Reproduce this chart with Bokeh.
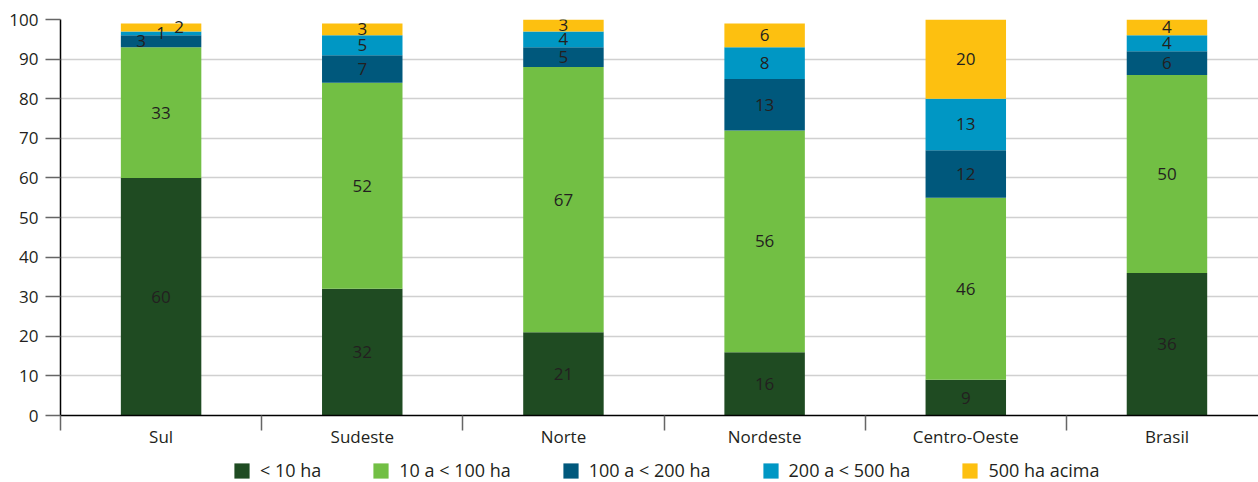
from bokeh.plotting import figure
from bokeh.layouts import column
from bokeh.models import (ColumnDataSource, Range1d, FixedTicker, Legend, LegendItem)
from bokeh.core.properties import value
from bokeh.embed import file_html
from bokeh.resources import INLINE

# Share of rural establishments by area class (%), per region
categories = ["Sul", "Sudeste", "Norte", "Nordeste", "Centro-Oeste", "Brasil"]
lt_10 = [60, 32, 21, 16, 9, 36]
from_10_to_100 = [33, 52, 67, 56, 46, 50]
from_100_to_200 = [3, 7, 5, 13, 12, 6]
from_200_to_500 = [1, 5, 4, 8, 13, 4]
from_500_up = [2, 3, 3, 6, 20, 4]
series_labels = ["< 10 ha", "10 a < 100 ha", "100 a < 200 ha", "200 a < 500 ha", "500 ha acima"]
y_ticks = [0, 10, 20, 30, 40, 50, 60, 70, 80, 90, 100]

series = [lt_10, from_10_to_100, from_100_to_200, from_200_to_500, from_500_up]
keys = ["s0", "s1", "s2", "s3", "s4"]
colors = ["#1f4b22", "#72bf44", "#00587c", "#0097c4", "#fdc010"]
FONT = "Open Sans"
TXT = "#231f20"

xs = [i + 0.5 for i in range(len(categories))]
data = {"x": xs}
for k, s in zip(keys, series):
    data[k] = s
source = ColumnDataSource(data)

p = figure(width=1258, height=450, output_backend="svg", toolbar_location=None,
           x_range=Range1d(0, 5.955), y_range=Range1d(0, 100),
           min_border_left=60, min_border_right=0, min_border_top=19,
           min_border_bottom=34)
p.outline_line_color = None
p.background_fill_color = None
p.border_fill_color = "white"

renderers = p.vbar_stack(keys, x="x", width=0.4, source=source, color=colors,
                         line_color=None)

# Value labels at the middle of each segment
lx, ly, lt, lo = [], [], [], []
small_offsets = {(0, 2): -20, (0, 3): 0, (0, 4): 18}
for i, xc in enumerate(xs):
    base = 0
    for j, s in enumerate(series):
        v = s[i]
        lx.append(xc)
        ly.append(base + v / 2)
        lt.append(str(v))
        lo.append(small_offsets.get((i, j), 0))
        base += v
lab = ColumnDataSource(dict(x=lx, y=ly, t=lt, off=lo))
p.text(x="x", y="y", text="t", x_offset="off", source=lab, text_align="center",
       text_baseline="middle", text_font=value(FONT), text_font_size="17px",
       text_color=TXT)

# Y axis
p.yaxis.ticker = FixedTicker(ticks=y_ticks)
p.yaxis.major_tick_out = 15
p.yaxis.major_tick_in = 0
p.yaxis.minor_tick_out = 0
p.yaxis.minor_tick_in = 0
p.yaxis.axis_line_color = "black"
p.yaxis.axis_line_width = 1.5
p.yaxis.major_tick_line_color = "#666666"
p.yaxis.major_tick_line_width = 1.5
p.yaxis.major_label_standoff = 7
p.yaxis.major_label_text_font = FONT
p.yaxis.major_label_text_font_size = "17px"
p.yaxis.major_label_text_color = TXT

# X axis: category names at centers, separators at boundaries
p.xaxis.ticker = FixedTicker(ticks=xs, minor_ticks=list(range(len(categories) + 1)))
p.xaxis.major_label_overrides = {x: c for x, c in zip(xs, categories)}
p.xaxis.major_tick_out = 0
p.xaxis.major_tick_in = 0
p.xaxis.minor_tick_out = 15
p.xaxis.minor_tick_in = 0
p.xaxis.minor_tick_line_color = "#666666"
p.xaxis.minor_tick_line_width = 1.5
p.xaxis.axis_line_color = "black"
p.xaxis.axis_line_width = 1.5
p.xaxis.major_label_standoff = -6
p.xaxis.major_label_text_font = FONT
p.xaxis.major_label_text_font_size = "17px"
p.xaxis.major_label_text_color = TXT

p.xgrid.grid_line_color = None
p.ygrid.ticker = FixedTicker(ticks=y_ticks[1:])
p.ygrid.grid_line_color = "#d0d0d0"
p.ygrid.grid_line_width = 1.5

# Legend strip below the chart (swatch renderers sit outside the visible range)
leg = figure(width=1258, height=32, output_backend="svg", toolbar_location=None,
             x_range=Range1d(0, 1), y_range=Range1d(0, 1),
             x_axis_type=None, y_axis_type=None,
             min_border_left=0, min_border_right=0, min_border_top=0, min_border_bottom=0)
leg.outline_line_color = None
leg.grid.visible = False
swatches = [leg.vbar(x=[5], top=[1], width=0.1, color=c, line_color=None) for c in colors]
legend = Legend(items=[LegendItem(label=l, renderers=[r]) for l, r in zip(series_labels, swatches)],
                orientation="horizontal", location=(172, 0),
                glyph_width=19, glyph_height=19, label_standoff=9,
                label_height=19, spacing=50, padding=0, margin=0,
                border_line_color=None, background_fill_color=None,
                label_text_font=FONT, label_text_font_size="18px",
                label_text_color=TXT)
leg.add_layout(legend, "center")

layout = column(p, leg, spacing=0)
open("out.html", "w").write(file_html(layout, INLINE))
